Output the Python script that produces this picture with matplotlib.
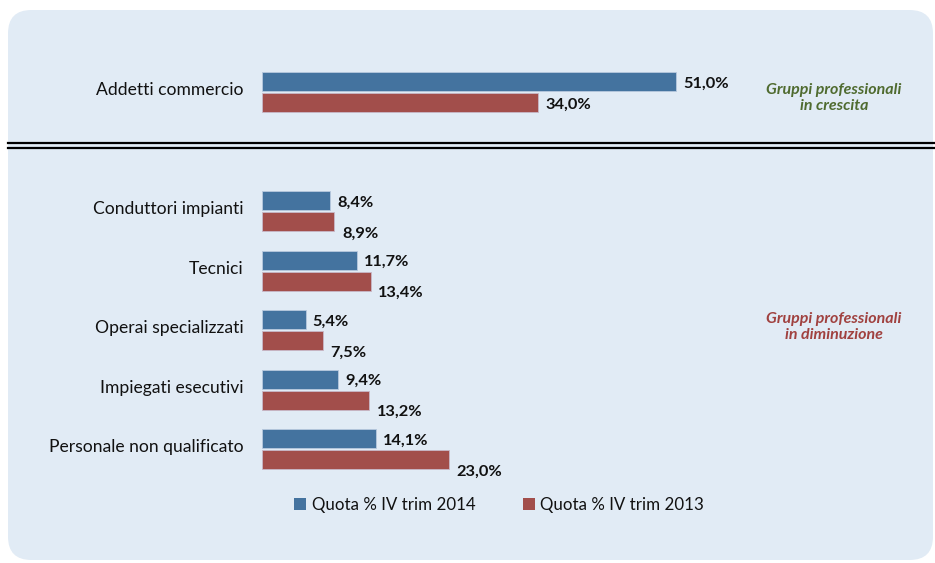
import matplotlib
matplotlib.use("Agg")
import matplotlib.pyplot as plt
import matplotlib.transforms as mtransforms
from matplotlib.patches import FancyBboxPatch, Patch
from matplotlib.lines import Line2D

top_categories = ["Addetti commercio"]
top_2014 = [51.0]
top_2013 = [34.0]

bottom_categories = ["Conduttori impianti", "Tecnici", "Operai specializzati",
                     "Impiegati esecutivi", "Personale non qualificato"]
bottom_2014 = [8.4, 11.7, 5.4, 9.4, 14.1]
bottom_2013 = [8.9, 13.4, 7.5, 13.2, 23.0]

series_labels = ["Quota % IV trim 2014", "Quota % IV trim 2013"]
side_labels = ["Gruppi professionali\nin crescita", "Gruppi professionali\nin diminuzione"]

BLUE = "#44739f"
RED = "#a24e4b"
BG = "#e1ebf5"
GREEN = "#4f6b2f"
SIDE_RED = "#a0413f"
FONT = "Lato"
plt.rcParams['font.family'] = [FONT, 'DejaVu Sans']

W, H = 935, 563
fig = plt.figure(figsize=(W / 100, H / 100), dpi=100)
fig.patch.set_facecolor("white")

# background rounded panel
box = FancyBboxPatch((8 / W, 3 / H), 925 / W, 550 / H,
                     boxstyle="round,pad=0,rounding_size=0.025",
                     transform=fig.transFigure, facecolor=BG, edgecolor="none",
                     mutation_aspect=W / H, zorder=-10)
fig.add_artist(box)

# double separator line
for yy in (143, 147.5):
    fig.add_artist(Line2D([8 / W, 1.0], [1 - yy / H, 1 - yy / H],
                          transform=fig.transFigure, color="black", lw=1.6, zorder=-5))

PXPERPCT = 8.12
ax_left = 262
ax_right = 700
xmax = (ax_right - ax_left) / PXPERPCT
unit = 59.5
bar_h = 19 / unit
off = 10.5 / unit


def fmt(v):
    return f"{v:.1f}".replace(".", ",") + "%"


def draw(ax, cats, v14, v13, red_dy):
    ys = list(range(len(cats)))
    ax.barh([y - off for y in ys], v14, height=bar_h, color=BLUE,
            edgecolor="#b8c9de", linewidth=0.6)
    ax.barh([y + off for y in ys], v13, height=bar_h, color=RED,
            edgecolor="#c8b8c8", linewidth=0.6)
    for y, a, b in zip(ys, v14, v13):
        ax.annotate(fmt(a), (a, y - off), xytext=(5, -1.5), textcoords="offset points",
                    ha="left", va="center", fontsize=11.8, fontweight="bold", color="#111111")
        ax.annotate(fmt(b), (b, y + off), xytext=(5.5, red_dy), textcoords="offset points",
                    ha="left", va="center", fontsize=11.8, fontweight="bold", color="#111111")
    ax.set_xlim(0, xmax)
    ax.set_ylim(len(cats) - 0.5, -0.5)
    ax.set_yticks(ys)
    ax.set_yticklabels(cats, fontsize=12.6, color="#111111")
    ax.tick_params(axis="y", length=0, pad=13.5)
    ax.tick_params(axis="x", bottom=False, labelbottom=False)
    shift = mtransforms.ScaledTranslation(0, 3.5 / 100, fig.dpi_scale_trans)
    for lab in ax.get_yticklabels():
        lab.set_transform(lab.get_transform() + shift)
    ax.patch.set_visible(False)
    for s in ax.spines.values():
        s.set_visible(False)


# top axes
c_top = 92
ax1 = fig.add_axes([ax_left / W, 1 - (c_top + unit / 2) / H,
                    (ax_right - ax_left) / W, unit / H])
draw(ax1, top_categories, top_2014, top_2013, -1.5)

# bottom axes
top_px = 211 - unit / 2
ax2 = fig.add_axes([ax_left / W, 1 - (top_px + unit * 5) / H,
                    (ax_right - ax_left) / W, unit * 5 / H])
draw(ax2, bottom_categories, bottom_2014, bottom_2013, -8.5)

# side labels
fig.text(834 / W, 1 - 98 / H, side_labels[0], ha="center", va="center",
         fontsize=11.5, fontstyle="italic", fontweight="bold", color=GREEN,
         linespacing=1.2)
fig.text(834 / W, 1 - 327 / H, side_labels[1], ha="center", va="center",
         fontsize=11.5, fontstyle="italic", fontweight="bold", color=SIDE_RED,
         linespacing=1.2)

# legend
handles = [Patch(facecolor=BLUE, edgecolor="none"), Patch(facecolor=RED, edgecolor="none")]
fig.legend(handles, series_labels, loc="center", bbox_to_anchor=(499 / W, 1 - 505 / H),
           ncol=2, frameon=False, fontsize=12.2, handlelength=0.75, handleheight=0.75,
           handletextpad=0.3, columnspacing=2.8, labelcolor="#111111")

fig.savefig("out.png", dpi=100, facecolor=fig.get_facecolor())
